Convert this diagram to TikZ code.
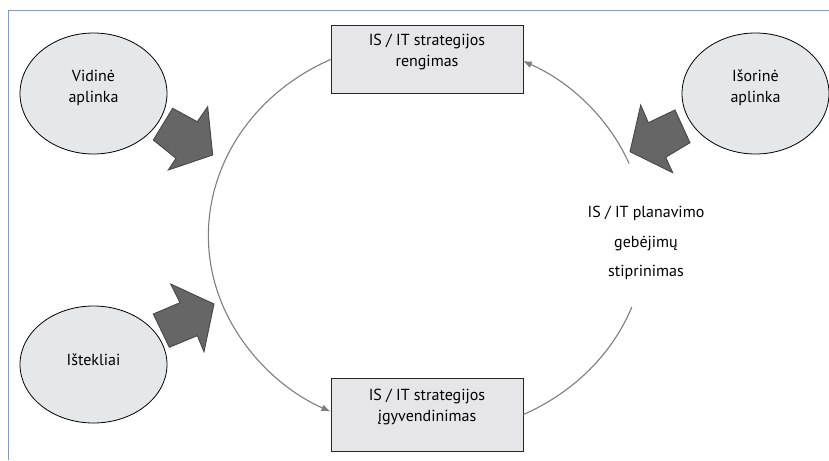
\documentclass[tikz,border=0pt]{standalone}
\usepackage{fontspec}
\setmainfont{PT Sans}
\usetikzlibrary{shapes.geometric,arrows.meta}
\definecolor{framecol}{RGB}{135,152,200}
\definecolor{boxfill}{RGB}{230,230,232}
\definecolor{circfill}{RGB}{230,231,233}
\definecolor{blockfill}{RGB}{102,102,102}
\definecolor{blockline}{RGB}{70,70,70}
\definecolor{conncol}{RGB}{125,125,125}
\tikzset{
  stagebox/.style={draw=black!85,line width=1pt,fill=boxfill,minimum width=192pt,inner sep=0pt,align=center,font=\fontsize{16pt}{21pt}\selectfont},
  envcirc/.style={ellipse,draw=black,line width=0.8pt,fill=circfill,minimum width=147pt,minimum height=121pt,inner sep=0pt,align=center,font=\fontsize{16pt}{21pt}\selectfont},
  blockarrow/.style={fill=blockfill,draw=blockline,line width=0.9pt,line join=miter},
  conn/.style={draw=conncol,line width=1.1pt},
  connarrow/.style={conn,-{Latex[length=9pt,width=7pt]}},
  lbl/.style={align=center,font=\fontsize{16pt}{29.5pt}\selectfont,inner sep=0pt}
}
\begin{document}
\begin{tikzpicture}[x=1pt,y=-1pt]
\useasboundingbox (0,0) rectangle (829,460);
% frame
\draw[framecol,line width=1pt] (829,11) -- (8,11) -- (8,460);
% nodes
\node[stagebox,minimum height=67pt] (top) at (427,59.5) {IS / IT strategijos\\rengimas\\[-2pt]};
\node[stagebox,minimum height=73pt] (bot) at (427,414.5) {IS / IT strategijos\\įgyvendinimas\\[-2pt]};
\node[envcirc] (vid) at (93.5,93.5) {Vidinė\\aplinka\\[-6pt]};
\node[envcirc,minimum height=117pt] (ist) at (93.5,364.5) {Ištekliai\\[-12pt]};
\node[envcirc] (isor) at (755.5,93.5) {Išorinė\\aplinka\\[-6pt]};
\node[lbl] (plan) at (646,243) {IS / IT planavimo\\gebėjimų\\stiprinimas};
% cycle connectors
\coordinate (c) at (427,237);
\draw[connarrow] (top.west) arc[start angle=116.1,end angle=243.9,x radius=218pt,y radius=196pt];
\draw[conn] (bot.east) arc[start angle=-63.9,end angle=-20.5,x radius=218pt,y radius=196pt];
\coordinate (upstart) at ([shift={(22:218pt and 196pt)}]c);
\draw[connarrow] (upstart) arc[start angle=22,end angle=63.9,x radius=218pt,y radius=196pt];
% block arrows
\draw[blockarrow] (172.7,108.3) -- (197.3,121.7) -- (207.7,106.7) -- (212.7,155) -- (168.3,170) -- (176,158.3) -- (153.3,140) -- cycle;
\draw[blockarrow] (170.7,284) -- (180,302.7) -- (153.3,314) -- (169.3,347.3) -- (197.3,335.7) -- (204,351.7) -- (214,304) -- cycle;
\draw[blockarrow] (640.7,105) -- (648.3,122.7) -- (675,110) -- (690,142.7) -- (665.7,157.3) -- (672.7,172.7) -- (630,151.7) -- cycle;
\end{tikzpicture}
\end{document}
